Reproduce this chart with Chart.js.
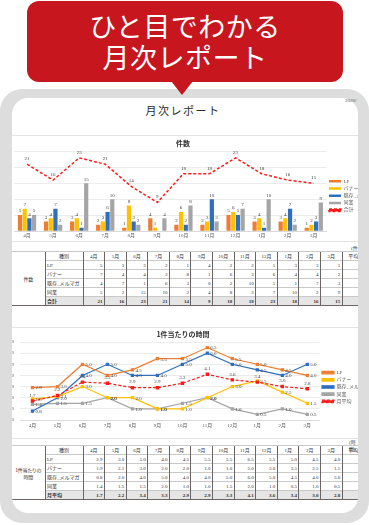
<!DOCTYPE html>
<html lang="ja">
<head>
<meta charset="utf-8">
<script src="https://cdn.jsdelivr.net/npm/chart.js@4.4.1/dist/chart.umd.min.js"></script>
<style>
body{margin:0;width:369px;height:525px;position:relative;overflow:hidden;background:#fff;font-family:"Noto Sans CJK JP",sans-serif}
#banner{position:absolute;z-index:2;left:27px;top:1px;width:316px;height:81px;background:#c8161e;border-radius:12px;color:#fff;text-align:center;font-size:27px;line-height:31px;padding-top:9px;box-sizing:border-box;letter-spacing:0.5px}
#banner:after{content:"";position:absolute;left:144px;top:80px;border-left:11px solid transparent;border-right:11px solid transparent;border-top:14px solid #c8161e}
#frame{position:absolute;left:0;top:89px;width:369px;height:434px;background:#dcdddc;border-radius:22px}
#card{position:absolute;left:12px;top:98px;width:346px;height:415px;background:#fff;border-radius:16px;overflow:hidden}
.abs{position:absolute}
#date{left:345px;top:98px;font-size:5px;color:#555;font-family:"Liberation Serif";width:12px;overflow:hidden;z-index:3}
#title{left:0;width:342px;top:4px;text-align:center;font-size:11px;letter-spacing:1.5px;color:#2a2a2a}
.ctitle{left:0;width:342px;text-align:center;font-size:7px;line-height:8px;font-weight:bold;color:#333}
.box{left:-2px;width:350px;border-top:1px solid #e3e3e3;border-bottom:1px solid #e3e3e3}
.unit{font-size:5px;color:#444;font-family:"Liberation Serif","Noto Sans CJK JP"}
table{position:absolute;left:0;border-collapse:collapse;table-layout:fixed;font-family:"Liberation Serif","Noto Sans CJK JP";font-size:5px;color:#333;border-top:1px solid #6d6464;border-bottom:1px solid #6d6464}
td{padding:0 1.5px;border-left:1px solid #6d6464;border-top:0.5px solid #c9c9c9;text-align:right;overflow:hidden;white-space:nowrap;line-height:5px}
td.name{text-align:left}
td.head{text-align:center}
td.side{text-align:center;border-left:none;white-space:nowrap;line-height:7px;padding:0;overflow:visible;letter-spacing:-0.3px;font-family:"Noto Sans CJK JP"}
tr.sum td{background:#e6e5e5;font-weight:bold}
tr.sum td.side{background:#fff;font-weight:normal}
</style>
</head>
<body>
<div id="banner">ひと目でわかる<br>月次レポート</div>
<div id="frame"></div>
<div id="date" class="abs">2020/</div>
<div id="card">
  <div id="title" class="abs">月次レポート</div>
  <div class="abs box" style="top:37px;height:105px"></div>
  <div class="abs" style="left:-10px;top:38px;width:384px;height:104px"><canvas id="countChart"></canvas></div>
  <div class="abs ctitle" style="top:41px">件数</div>
  <div class="abs unit" style="left:339px;top:146px">(件)</div>
  <table id="countTable" style="top:153px"></table>
  <div class="abs box" style="top:229px;height:110px"></div>
  <div class="abs" style="left:-4px;top:230px;width:371px;height:109px"><canvas id="timeChart"></canvas></div>
  <div class="abs ctitle" style="top:232px">1件当たりの時間</div>
  <div class="abs unit" style="left:337px;top:340px">(時間)</div>
  <table id="timeTable" style="top:347px"></table>
</div>

<script>
const months = ["4月","5月","6月","7月","8月","9月","10月","11月","12月","1月","2月","3月"];
const kinds = ["LP","バナー","既存_メルマガ","同業"];

// 件数
const countLP     = [5,3,3,2,1,4,2,2,5,3,3,1];
const countBanner = [7,4,4,3,8,1,6,3,6,4,4,2];
const countMail   = [4,7,1,6,3,0,2,10,5,1,7,3];
const countOther  = [5,2,15,10,2,4,8,3,7,10,2,9];
const countTotal  = [21,16,23,21,14,9,18,18,23,18,16,15];

// 1件当たりの時間
const timeLP     = [2.9,3.0,5.0,4.0,4.5,5.5,5.5,6.5,5.5,5.0,4.5,4.0];
const timeBanner = [1.9,2.1,3.0,2.0,2.0,1.0,1.0,2.0,3.0,3.5,2.5,1.5];
const timeMail   = [0.8,2.0,4.0,5.0,4.0,4.0,5.0,6.0,5.0,4.5,4.0,5.0];
const timeOther  = [1.4,1.5,1.5,2.0,1.0,1.0,1.5,2.0,1.0,0.5,1.0,0.5];
const timeAvg    = [1.7,2.2,3.4,3.3,2.9,2.9,3.3,4.1,3.6,3.4,3.0,2.8];

const colors = ["#ed7d31","#ffc000","#2e6fbe","#a5a5a5"];
const red = "#ff1a1a";

// 値ラベル
const valueLabels = {
  id: "valueLabels",
  afterDatasetsDraw(chart, args, opts){
    const ctx = chart.ctx;
    ctx.save();
    ctx.font = '5px "Liberation Serif"';
    ctx.fillStyle = "#404040";
    chart.data.datasets.forEach((ds, i) => {
      const meta = chart.getDatasetMeta(i);
      if (meta.hidden) return;
      meta.data.forEach((el, j) => {
        const v = ds.data[j];
        if (v === 0) return;
        const txt = opts.digits ? v.toFixed(opts.digits) : String(v);
        if (ds.labelAt === "right"){
          ctx.textAlign = "left"; ctx.textBaseline = "middle";
          ctx.fillText(txt, el.x + 3, el.y + 0.5);
        } else {
          ctx.textAlign = "center"; ctx.textBaseline = "bottom";
          ctx.fillText(txt, el.x, el.y - (ds.type === "line" || chart.config.type === "line" ? 3 : 1.5));
        }
      });
    });
    ctx.restore();
  }
};

Chart.defaults.animation = false;
Chart.defaults.font.family = '"Liberation Serif","Noto Sans CJK JP"';
Chart.defaults.color = "#595959";

function legendOpts(){
  return {
    position: "right",
    labels: {font:{size:5}, boxWidth:12, boxHeight:2.5, padding:2.2, color:"#595959",
             sort:(a,b)=>a.datasetIndex-b.datasetIndex}
  };
}
function xScale(pad){
  return {offset:true, grid:{display:false, drawTicks:false}, border:{color:"#d9d9d9"},
          ticks:{font:{size:5}, padding:pad, maxRotation:0}};
}

// 件数チャート
const countSeries = [countLP,countBanner,countMail,countOther];
new Chart(document.getElementById("countChart"), {
  data: {
    labels: months,
    datasets: [
      ...countSeries.map((d,i)=>({type:"bar", label:kinds[i], data:d, backgroundColor:colors[i],
        order:1, categoryPercentage:0.72, barPercentage:0.9})),
      {type:"line", label:"合計", data:countTotal, borderColor:red, backgroundColor:red,
        borderDash:[3,2], borderWidth:1.5, pointRadius:0, order:0}
    ]
  },
  options: {
    responsive:true, maintainAspectRatio:false,
    layout:{padding:{top:15.5,right:0,bottom:0,left:0}},
    plugins:{ legend:legendOpts(), tooltip:{enabled:false}, valueLabels:{digits:0} },
    scales:{
      x:xScale(1.5),
      y:{min:0, max:25, ticks:{stepSize:5, font:{size:5}}, grid:{color:"#e4e4e4", lineWidth:0.7, drawTicks:false},
         border:{display:false}, afterFit(s){ s.width = 12; }}
    }
  },
  plugins:[valueLabels]
});

// 時間チャート
const timeSeries = [timeLP,timeBanner,timeMail,timeOther];
new Chart(document.getElementById("timeChart"), {
  type:"line",
  data: {
    labels: months,
    datasets: [
      ...timeSeries.map((d,i)=>({label:kinds[i], data:d, borderColor:colors[i], backgroundColor:colors[i],
        borderWidth:1.2, pointRadius:1.5, pointStyle:"rect", labelAt:"right", order:1})),
      {label:"月平均", data:timeAvg, borderColor:red, backgroundColor:red, borderDash:[3,2],
        borderWidth:1.2, pointRadius:1.6, pointStyle:"rect", order:0}
    ]
  },
  options: {
    responsive:true, maintainAspectRatio:false,
    layout:{padding:{top:14,right:0,bottom:5,left:0}},
    plugins:{ legend:legendOpts(), tooltip:{enabled:false}, valueLabels:{digits:1} },
    scales:{
      x:xScale(3),
      y:{min:0, max:7, ticks:{stepSize:1, padding:6, font:{size:5}, callback:v=>v.toFixed(1)}, grid:{color:"#e4e4e4", lineWidth:0.7, drawTicks:false},
         border:{display:false}, afterFit(s){ s.width = 12; }}
    }
  },
  plugins:[valueLabels]
});

// 表
const colW = [33,38].concat(months.map(()=>21.6), [21.6]);
function buildTable(id, side, series, sumName, sumData, digits){
  const t = document.getElementById(id);
  let html = "<colgroup>" + colW.map(w=>`<col style="width:${w}px">`).join("") + "</colgroup>";
  html += `<tr style="height:9px"><td class="side" rowspan="6">${side}</td><td class="head">種別</td>` +
          months.map(m=>`<td class="head">${m}</td>`).join("") + `<td class="head">平均</td></tr>`;
  const rows = series.map((d,i)=>[kinds[i], d]).concat([[sumName, sumData]]);
  rows.forEach((r,k)=>{
    const cls = k === rows.length-1 ? ' class="sum"' : "";
    html += `<tr${cls} style="height:9px"><td class="name">${r[0]}</td>` +
            r[1].map(v=>`<td>${v.toFixed(digits)}</td>`).join("") + `<td></td></tr>`;
  });
  t.innerHTML = html;
  t.style.width = colW.reduce((a,b)=>a+b,0) + "px";
}
buildTable("countTable", "件数", countSeries, "合計", countTotal, 0);
buildTable("timeTable", "1件当たりの<br>時間", timeSeries, "月平均", timeAvg, 1);
</script>
</body>
</html>
